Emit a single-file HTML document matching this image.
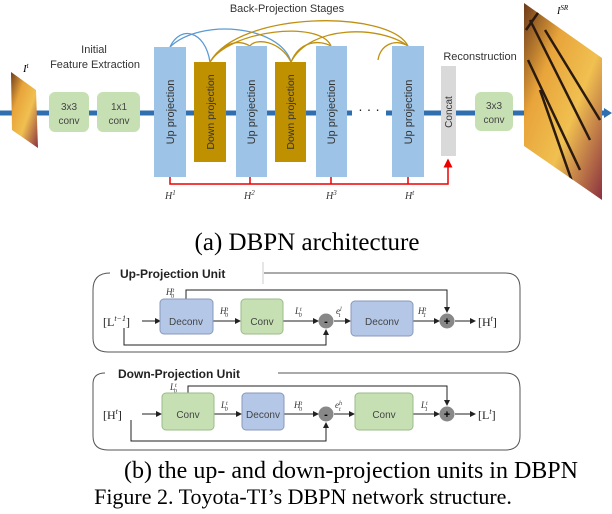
<!DOCTYPE html>
<html><head><meta charset="utf-8"><style>
html,body{margin:0;padding:0;background:#fff;}
svg{display:block;}
.s{font-family:"Liberation Sans",sans-serif;}
.r{font-family:"Liberation Serif",serif;}
</style></head><body>
<svg width="612" height="514" viewBox="0 0 612 514" xmlns="http://www.w3.org/2000/svg">
<defs>
<marker id="ar" markerWidth="6" markerHeight="6" refX="5" refY="3" orient="auto"><path d="M0,0 L6,3 L0,6 z" fill="#222"/></marker>
<marker id="arr" markerWidth="6" markerHeight="6" refX="5" refY="3" orient="auto"><path d="M0,0 L6,3 L0,6 z" fill="#e00"/></marker>
<linearGradient id="bf" x1="0" y1="0" x2="1" y2="1"><stop offset="0" stop-color="#6b3a1a"/><stop offset="0.3" stop-color="#e8a43a"/><stop offset="0.6" stop-color="#f0c050"/><stop offset="1" stop-color="#8a3040"/></linearGradient>
<clipPath id="cb"><polygon points="524,3 602,58 602,200 524,146"/></clipPath>
</defs>
<line x1="0" y1="113" x2="606" y2="113" stroke="#2f6fb0" stroke-width="5"/>
<path d="M604,108 L612,113 L604,118 z" fill="#2f6fb0"/>
<polygon points="11,72 36,90 38,148 12,130" fill="url(#bf)"/>
<text x="23" y="72" class="r" font-size="11" font-style="italic">I<tspan dy="-4" font-size="7">t</tspan></text>
<text x="94" y="53" class="s" font-size="11" fill="#333" text-anchor="middle">Initial</text>
<text x="95" y="68" class="s" font-size="11" fill="#333" text-anchor="middle">Feature Extraction</text>
<rect x="49" y="92" width="40" height="40" rx="6" fill="#c6e0b4"/>
<text x="69" y="110" class="s" font-size="10" fill="#444" text-anchor="middle">3x3</text>
<text x="69" y="124" class="s" font-size="10" fill="#444" text-anchor="middle">conv</text>
<rect x="97" y="92" width="43" height="40" rx="6" fill="#c6e0b4"/>
<text x="119" y="110" class="s" font-size="10" fill="#444" text-anchor="middle">1x1</text>
<text x="119" y="124" class="s" font-size="10" fill="#444" text-anchor="middle">conv</text>
<text x="287" y="12" class="s" font-size="11" fill="#333" text-anchor="middle">Back-Projection Stages</text>
<g fill="none" stroke-width="1.3">
<path d="M170,47 C180,25 205,30 210,62" stroke="#5b9bd5"/>
<path d="M170,47 C200,18 280,25 291,62" stroke="#5b9bd5"/>
<path d="M210,62 C230,30 320,20 331,46" stroke="#c09010"/>
<path d="M210,62 C240,10 390,10 408,46" stroke="#c09010"/>
<path d="M250,46 C255,38 280,40 291,62" stroke="#c09010"/>
<path d="M210,62 C225,40 240,40 250,46" stroke="#c09010"/>
<path d="M291,62 C310,25 380,25 408,46" stroke="#c09010"/>
<path d="M291,62 C300,40 320,40 331,46" stroke="#c09010"/>
<path d="M378,60 C380,45 395,38 408,46" stroke="#c09010"/>
</g>
<rect x="154" y="47" width="32" height="130" fill="#9dc3e6"/>
<text transform="translate(174,112) rotate(-90)" class="s" font-size="11" fill="#333" text-anchor="middle">Up projection</text>
<rect x="194" y="62" width="32" height="100" fill="#bf9000"/>
<text transform="translate(214,112) rotate(-90)" class="s" font-size="10.5" fill="#333" text-anchor="middle">Down projection</text>
<rect x="236" y="46" width="31" height="131" fill="#9dc3e6"/>
<text transform="translate(255,112) rotate(-90)" class="s" font-size="11" fill="#333" text-anchor="middle">Up projection</text>
<rect x="275" y="62" width="31" height="100" fill="#bf9000"/>
<text transform="translate(294,112) rotate(-90)" class="s" font-size="10.5" fill="#333" text-anchor="middle">Down projection</text>
<rect x="316" y="46" width="31" height="131" fill="#9dc3e6"/>
<text transform="translate(335,112) rotate(-90)" class="s" font-size="11" fill="#333" text-anchor="middle">Up projection</text>
<rect x="352" y="100" width="34" height="26" fill="#fff"/>
<text x="369" y="114" class="s" font-size="14" fill="#222" text-anchor="middle">· · ·</text>
<rect x="392" y="46" width="32" height="131" fill="#9dc3e6"/>
<text transform="translate(412,112) rotate(-90)" class="s" font-size="11" fill="#333" text-anchor="middle">Up projection</text>
<text x="480" y="60" class="s" font-size="11" fill="#333" text-anchor="middle">Reconstruction</text>
<rect x="441" y="66" width="15" height="90" fill="#d9d9d9"/>
<text transform="translate(452,112) rotate(-90)" class="s" font-size="10" fill="#333" text-anchor="middle">Concat</text>
<rect x="475" y="92" width="38" height="39" rx="6" fill="#c6e0b4"/>
<text x="494" y="109" class="s" font-size="10" fill="#444" text-anchor="middle">3x3</text>
<text x="494" y="123" class="s" font-size="10" fill="#444" text-anchor="middle">conv</text>
<polygon points="524,3 602,58 602,200 524,146" fill="url(#bf)"/>
<g clip-path="url(#cb)" stroke="#2a1a10" stroke-width="2.5" fill="none">
<path d="M530,20 L590,140"/><path d="M545,30 L600,120"/><path d="M528,60 L580,170"/><path d="M540,90 L575,190"/><path d="M526,30 L540,10"/>
</g>
<text x="557" y="14" class="r" font-size="10" font-style="italic">I<tspan dy="-4" font-size="7">SR</tspan></text>
<g stroke="#e00" stroke-width="1.5" fill="none">
<path d="M170,177 V184 H448 V160" marker-end="url(#arr)"/>
<line x1="250" y1="177" x2="250" y2="184"/>
<line x1="331" y1="177" x2="331" y2="184"/>
<line x1="408" y1="177" x2="408" y2="184"/>
</g>
<g class="r" font-size="10" font-style="italic" fill="#333">
<text x="165" y="199">H<tspan dy="-4" font-size="7">1</tspan></text>
<text x="244" y="199">H<tspan dy="-4" font-size="7">2</tspan></text>
<text x="326" y="199">H<tspan dy="-4" font-size="7">3</tspan></text>
<text x="405" y="199">H<tspan dy="-4" font-size="7">t</tspan></text>
</g>
<text x="307" y="250" class="r" font-size="25" text-anchor="middle">(a) DBPN architecture</text>
<g fill="none" stroke="#555" stroke-width="1">
<path d="M93,290 Q93,273 110,273 M264,273 H505 Q520,273 520,288 V338 Q520,352 505,352 H108 Q93,352 93,338 V290"/>
<path d="M93,384 Q93,373 105,373 M278,373 H505 Q520,373 520,388 V436 Q520,450 505,450 H108 Q93,450 93,436 V384"/>
</g>
<line x1="263" y1="262" x2="263" y2="284" stroke="#ccc"/>
<text x="120" y="278" class="s" font-size="12" font-weight="bold" fill="#222">Up-Projection Unit</text>
<text x="118" y="378" class="s" font-size="12" font-weight="bold" fill="#222">Down-Projection Unit</text>
<g stroke="#222" stroke-width="1" fill="none">
<line x1="142" y1="321" x2="160" y2="321" marker-end="url(#ar)"/>
<line x1="213" y1="321" x2="240" y2="321" marker-end="url(#ar)"/>
<line x1="283" y1="321" x2="318" y2="321" marker-end="url(#ar)"/>
<line x1="334" y1="321" x2="350" y2="321" marker-end="url(#ar)"/>
<line x1="413" y1="321" x2="439" y2="321" marker-end="url(#ar)"/>
<line x1="455" y1="321" x2="475" y2="321" marker-end="url(#ar)"/>
<path d="M186,299 V290 H447 V312" marker-end="url(#ar)"/>
<path d="M124,328 V345 H326 V330" marker-end="url(#ar)"/>
<line x1="142" y1="414" x2="161" y2="414" marker-end="url(#ar)"/>
<line x1="214" y1="414" x2="241" y2="414" marker-end="url(#ar)"/>
<line x1="283" y1="414" x2="318" y2="414" marker-end="url(#ar)"/>
<line x1="334" y1="414" x2="354" y2="414" marker-end="url(#ar)"/>
<line x1="413" y1="414" x2="439" y2="414" marker-end="url(#ar)"/>
<line x1="455" y1="414" x2="475" y2="414" marker-end="url(#ar)"/>
<path d="M188,393 V386 H447 V405" marker-end="url(#ar)"/>
<path d="M131,420 V441 H326 V423" marker-end="url(#ar)"/>
</g>
<rect x="160" y="299" width="53" height="35" rx="4" fill="#b4c7e7" stroke="#8899bb"/>
<text x="186" y="325" class="s" font-size="10" fill="#444" text-anchor="middle">Deconv</text>
<rect x="241" y="299" width="42" height="35" rx="4" fill="#c6e0b4" stroke="#99bb88"/>
<text x="262" y="325" class="s" font-size="10" fill="#444" text-anchor="middle">Conv</text>
<rect x="351" y="301" width="62" height="35" rx="4" fill="#b4c7e7" stroke="#8899bb"/>
<text x="382" y="325" class="s" font-size="10" fill="#444" text-anchor="middle">Deconv</text>
<circle cx="326" cy="321" r="7.5" fill="#888"/><text x="326" y="325" class="s" font-size="11" font-weight="bold" text-anchor="middle">-</text>
<circle cx="447" cy="321" r="7.5" fill="#888"/><text x="447" y="325" class="s" font-size="11" font-weight="bold" text-anchor="middle">+</text>
<g class="r" font-size="12" fill="#222">
<text x="103" y="326">[L<tspan dy="-5" font-size="8" font-style="italic">t−1</tspan><tspan dy="5">]</tspan></text>
<text x="478" y="326">[H<tspan dy="-5" font-size="8" font-style="italic">t</tspan><tspan dy="5">]</tspan></text>
<text x="103" y="419">[H<tspan dy="-5" font-size="8" font-style="italic">t</tspan><tspan dy="5">]</tspan></text>
<text x="478" y="419">[L<tspan dy="-5" font-size="8" font-style="italic">t</tspan><tspan dy="5">]</tspan></text>
</g>
<g class="r" font-size="9" font-style="italic" fill="#333">
<text x="166" y="295">H<tspan font-size="6" dy="-3">t</tspan><tspan font-size="6" dx="-3" dy="6">0</tspan></text>
<text x="220" y="314">H<tspan font-size="6" dy="-3">t</tspan><tspan font-size="6" dx="-3" dy="6">0</tspan></text>
<text x="295" y="314">L<tspan font-size="6" dy="-3">t</tspan><tspan font-size="6" dx="-3" dy="6">0</tspan></text>
<text x="336" y="314">e<tspan font-size="6" dy="-3">l</tspan><tspan font-size="6" dx="-3" dy="6">t</tspan></text>
<text x="418" y="314">H<tspan font-size="6" dy="-3">t</tspan><tspan font-size="6" dx="-3" dy="6">1</tspan></text>
<text x="170" y="390">L<tspan font-size="6" dy="-3">t</tspan><tspan font-size="6" dx="-3" dy="6">0</tspan></text>
<text x="221" y="408">L<tspan font-size="6" dy="-3">t</tspan><tspan font-size="6" dx="-3" dy="6">0</tspan></text>
<text x="294" y="408">H<tspan font-size="6" dy="-3">t</tspan><tspan font-size="6" dx="-3" dy="6">0</tspan></text>
<text x="335" y="408">e<tspan font-size="6" dy="-3">h</tspan><tspan font-size="6" dx="-3" dy="6">t</tspan></text>
<text x="421" y="408">L<tspan font-size="6" dy="-3">t</tspan><tspan font-size="6" dx="-3" dy="6">1</tspan></text>
</g>
<rect x="162" y="393" width="52" height="37" rx="4" fill="#c6e0b4" stroke="#99bb88"/>
<text x="188" y="418" class="s" font-size="10" fill="#444" text-anchor="middle">Conv</text>
<rect x="242" y="393" width="42" height="37" rx="4" fill="#b4c7e7" stroke="#8899bb"/>
<text x="263" y="418" class="s" font-size="10" fill="#444" text-anchor="middle">Deconv</text>
<rect x="355" y="393" width="58" height="37" rx="4" fill="#c6e0b4" stroke="#99bb88"/>
<text x="384" y="418" class="s" font-size="10" fill="#444" text-anchor="middle">Conv</text>
<circle cx="326" cy="414" r="7.5" fill="#888"/><text x="326" y="418" class="s" font-size="11" font-weight="bold" text-anchor="middle">-</text>
<circle cx="447" cy="414" r="7.5" fill="#888"/><text x="447" y="418" class="s" font-size="11" font-weight="bold" text-anchor="middle">+</text>
<text x="351" y="478" class="r" font-size="24" text-anchor="middle">(b) the up- and down-projection units in DBPN</text>
<text x="303" y="504" class="r" font-size="22" text-anchor="middle">Figure 2. Toyota-TI’s DBPN network structure.</text>
</svg>
</body></html>
